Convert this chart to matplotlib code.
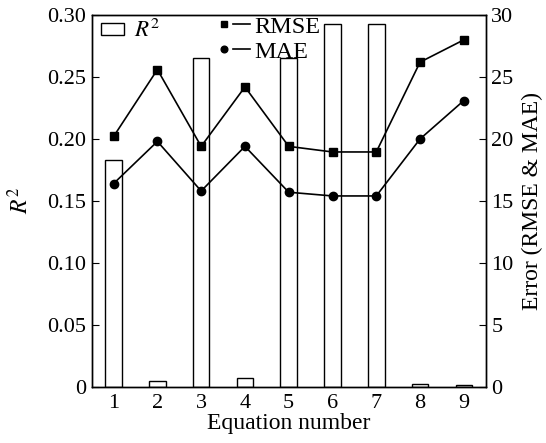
import matplotlib.pyplot as plt
from matplotlib.legend_handler import HandlerBase
from matplotlib.lines import Line2D
from matplotlib.patches import Patch
import numpy as np

plt.rcParams['font.family'] = ['Liberation Serif', 'DejaVu Serif']
plt.rcParams['mathtext.fontset'] = 'stix'
plt.rcParams['font.size'] = 16

# values
equations = [1, 2, 3, 4, 5, 6, 7, 8, 9]
r2 = [0.183, 0.0048, 0.265, 0.0068, 0.265, 0.2925, 0.2925, 0.0019, 0.0013]
rmse = [20.2, 25.6, 19.4, 24.2, 19.4, 18.95, 18.95, 26.2, 28.0]
mae = [16.4, 19.8, 15.8, 19.4, 15.7, 15.4, 15.4, 20.0, 23.1]
r2_ticks = [0, 0.05, 0.10, 0.15, 0.20, 0.25, 0.30]
r2_labels = ['0', '0.05', '0.10', '0.15', '0.20', '0.25', '0.30']
err_ticks = [0, 5, 10, 15, 20, 25, 30]


class MarkerFirst(HandlerBase):
    # marker on the left, short line after it: "■—"
    def create_artists(self, legend, orig_handle, xdescent, ydescent, width, height,
                       fontsize, trans):
        y = height / 2 - ydescent
        line = Line2D([-xdescent + 0.46 * width, -xdescent + width], [y, y],
                      color=orig_handle.get_color(), lw=orig_handle.get_linewidth())
        mark = Line2D([-xdescent + 0.2 * width], [y], ls='none',
                      marker=orig_handle.get_marker(), markersize=orig_handle.get_markersize(),
                      color=orig_handle.get_color())
        line.set_transform(trans)
        mark.set_transform(trans)
        return [line, mark]


fig = plt.figure(figsize=(5.46, 4.43), dpi=100)
ax = fig.add_axes([0.168, 0.127, 0.7216, 0.839])
x = np.array(equations)
ax.bar(x, r2, width=0.38, color='white', edgecolor='black', linewidth=1.0)
ax.set_xlim(0.5, 9.5)
ax.set_ylim(0, 0.30)
ax.set_yticks(r2_ticks)
ax.set_yticklabels(r2_labels)
ax.set_xticks(x)
ax.tick_params(axis='x', length=0, pad=5)
ax.tick_params(axis='y', direction='in', length=5, pad=4)
ax.set_xlabel('Equation number', fontsize=17, labelpad=0)
ax.set_ylabel('$R^2$', fontsize=17, labelpad=10)

ax2 = ax.twinx()
ax2.plot(x, rmse, '-s', color='black', lw=1.2, markersize=6)
ax2.plot(x, mae, '-o', color='black', lw=1.2, markersize=6)
ax2.set_ylim(0, 30)
ax2.set_yticks(err_ticks)
ax2.tick_params(axis='y', direction='in', length=5, pad=4)
ax2.set_ylabel('Error (RMSE & MAE)', fontsize=17, labelpad=6)

for a in (ax, ax2):
    for s in a.spines.values():
        s.set_linewidth(1.0)

leg1 = ax2.legend([Patch(facecolor='white', edgecolor='black', linewidth=1.0)], ['$R^2$'],
                  loc='upper left', bbox_to_anchor=(0.0, 1.015), frameon=False,
                  fontsize=16.5, handlelength=1.0, handleheight=0.45, handletextpad=0.45,
                  borderaxespad=0)
ax2.add_artist(leg1)
h_rmse = Line2D([], [], color='black', lw=1.2, marker='s', markersize=4.8)
h_mae = Line2D([], [], color='black', lw=1.2, marker='o', markersize=4.8)
ax2.legend([h_rmse, h_mae], ['RMSE', 'MAE'], loc='upper left', bbox_to_anchor=(0.296, 1.024),
           frameon=False, fontsize=17.5, handlelength=1.32, handletextpad=0.16,
           labelspacing=0.12, borderaxespad=0,
           handler_map={h_rmse: MarkerFirst(), h_mae: MarkerFirst()})

fig.savefig('out.png', dpi=100)
